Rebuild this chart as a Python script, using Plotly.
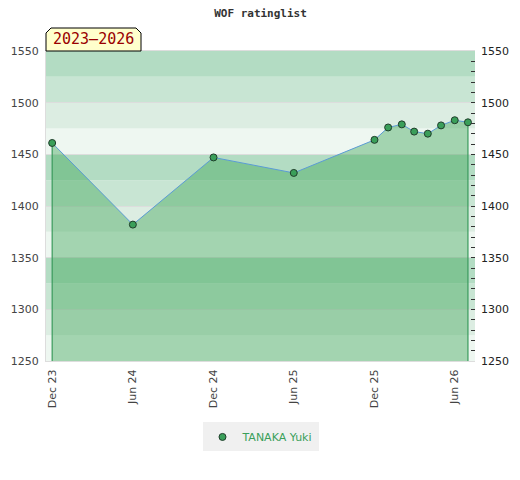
import plotly.graph_objects as go

# rating history
dates = ["2023-12-01", "2024-06-01", "2024-12-01", "2025-06-01", "2025-12-01",
         "2026-01-01", "2026-02-01", "2026-03-01", "2026-04-01", "2026-05-01",
         "2026-06-01", "2026-07-01"]
ratings = [1461, 1382, 1447, 1432, 1464, 1476, 1479, 1472, 1470, 1478, 1483, 1481]
player = "TANAKA Yuki"
period = "2023\u20132026"

y_min, y_max = 1250, 1550
band_edges = list(range(1250, 1551, 25))
band_colors = ["#eef7f1", "#dcede2", "#c8e5d3", "#b3dcc3"]

PW, PH = 429, 310  # plot area size in px

fig = go.Figure()

# background bands
shapes = []
for i in range(len(band_edges) - 1):
    shapes.append(dict(type="rect", xref="paper", yref="y", x0=0, x1=1,
                       y0=band_edges[i], y1=band_edges[i + 1],
                       fillcolor=band_colors[i % 4], line_width=0, layer="below"))

# label box with cut top corners
bw, bh, cut = 95 / PW, 23 / PH, 5
shapes.append(dict(type="path", xref="paper", yref="paper", layer="above",
                   path=(f"M 0,1 L 0,{1 + bh - cut / PH} L {cut / PW},{1 + bh} "
                         f"L {bw - cut / PW},{1 + bh} L {bw},{1 + bh - cut / PH} L {bw},1 Z"),
                   fillcolor="#ffffcc", line=dict(color="#000000", width=1)))

# filled area under the rating line
fig.add_trace(go.Scatter(x=dates, y=ratings, mode="lines", fill="tozeroy",
                         fillcolor="rgba(60,165,85,0.42)",
                         line=dict(color="#5b9bd5", width=1),
                         showlegend=False, hoverinfo="skip"))

# vertical edges at first and last point
for k in (0, -1):
    fig.add_trace(go.Scatter(x=[dates[k], dates[k]], y=[y_min, ratings[k]], mode="lines",
                             line=dict(color="#3a9a5c", width=1.2),
                             showlegend=False, hoverinfo="skip"))

fig.add_trace(go.Scatter(x=dates, y=ratings, mode="markers", name=player,
                         marker=dict(size=7, color="#3a9f5a",
                                     line=dict(color="#1f3d2a", width=1))))

# dummy trace for the right axis
fig.add_trace(go.Scatter(x=dates, y=ratings, yaxis="y2", mode="markers",
                         marker=dict(opacity=0), showlegend=False, hoverinfo="skip"))

fig.add_annotation(text=period, xref="paper", yref="paper", x=bw / 2, y=1 + bh / 2,
                   xanchor="center", yanchor="middle", showarrow=False,
                   font=dict(family="DejaVu Sans Mono", size=15, color="#990000"))

fig.update_layout(
    width=520, height=480,
    margin=dict(l=38, r=520 - 38 - PW, t=43, b=480 - 43 - PH),
    paper_bgcolor="white", plot_bgcolor="white",
    title=dict(text="<b>WOF ratinglist</b>", x=0.5, xref="paper", y=0.99, yanchor="middle",
               font=dict(family="DejaVu Sans Mono", size=11, color="#333")),
    shapes=shapes,
    xaxis=dict(type="date", range=["2023-11-17", "2026-07-17"], automargin=False,
               tick0="2023-12-01", dtick="M6", tickformat="%b %y",
               tickangle=-90, showgrid=False, zeroline=False, ticklabelstandoff=3,
               showline=True, linecolor="#dddddd", mirror=True,
               ticks="", tickfont=dict(family="DejaVu Sans", size=11, color="#444")),
    yaxis=dict(range=[y_min, y_max], dtick=50, showgrid=True, gridcolor="#dddddd",
               zeroline=False, showline=True, linecolor="#dddddd", automargin=False,
               ticklabelstandoff=4,
               ticks="", tickfont=dict(family="DejaVu Sans", size=11, color="#444")),
    yaxis2=dict(range=[y_min, y_max], dtick=50, overlaying="y", side="right",
                showgrid=False, zeroline=False, showline=False, automargin=False,
                ticks="inside", ticklen=4, tickcolor="#333", ticklabelstandoff=5,
                minor=dict(dtick=10, ticks="inside", ticklen=4, tickcolor="#333"),
                tickfont=dict(family="DejaVu Sans", size=11, color="#222")),
    legend=dict(orientation="h", x=0.5, xanchor="center", y=-0.245, yanchor="middle",
                bgcolor="#f0f0f0", itemwidth=30,
                font=dict(family="DejaVu Sans", size=11, color="#3a9f5a")),
)

fig.write_html("out.html")
